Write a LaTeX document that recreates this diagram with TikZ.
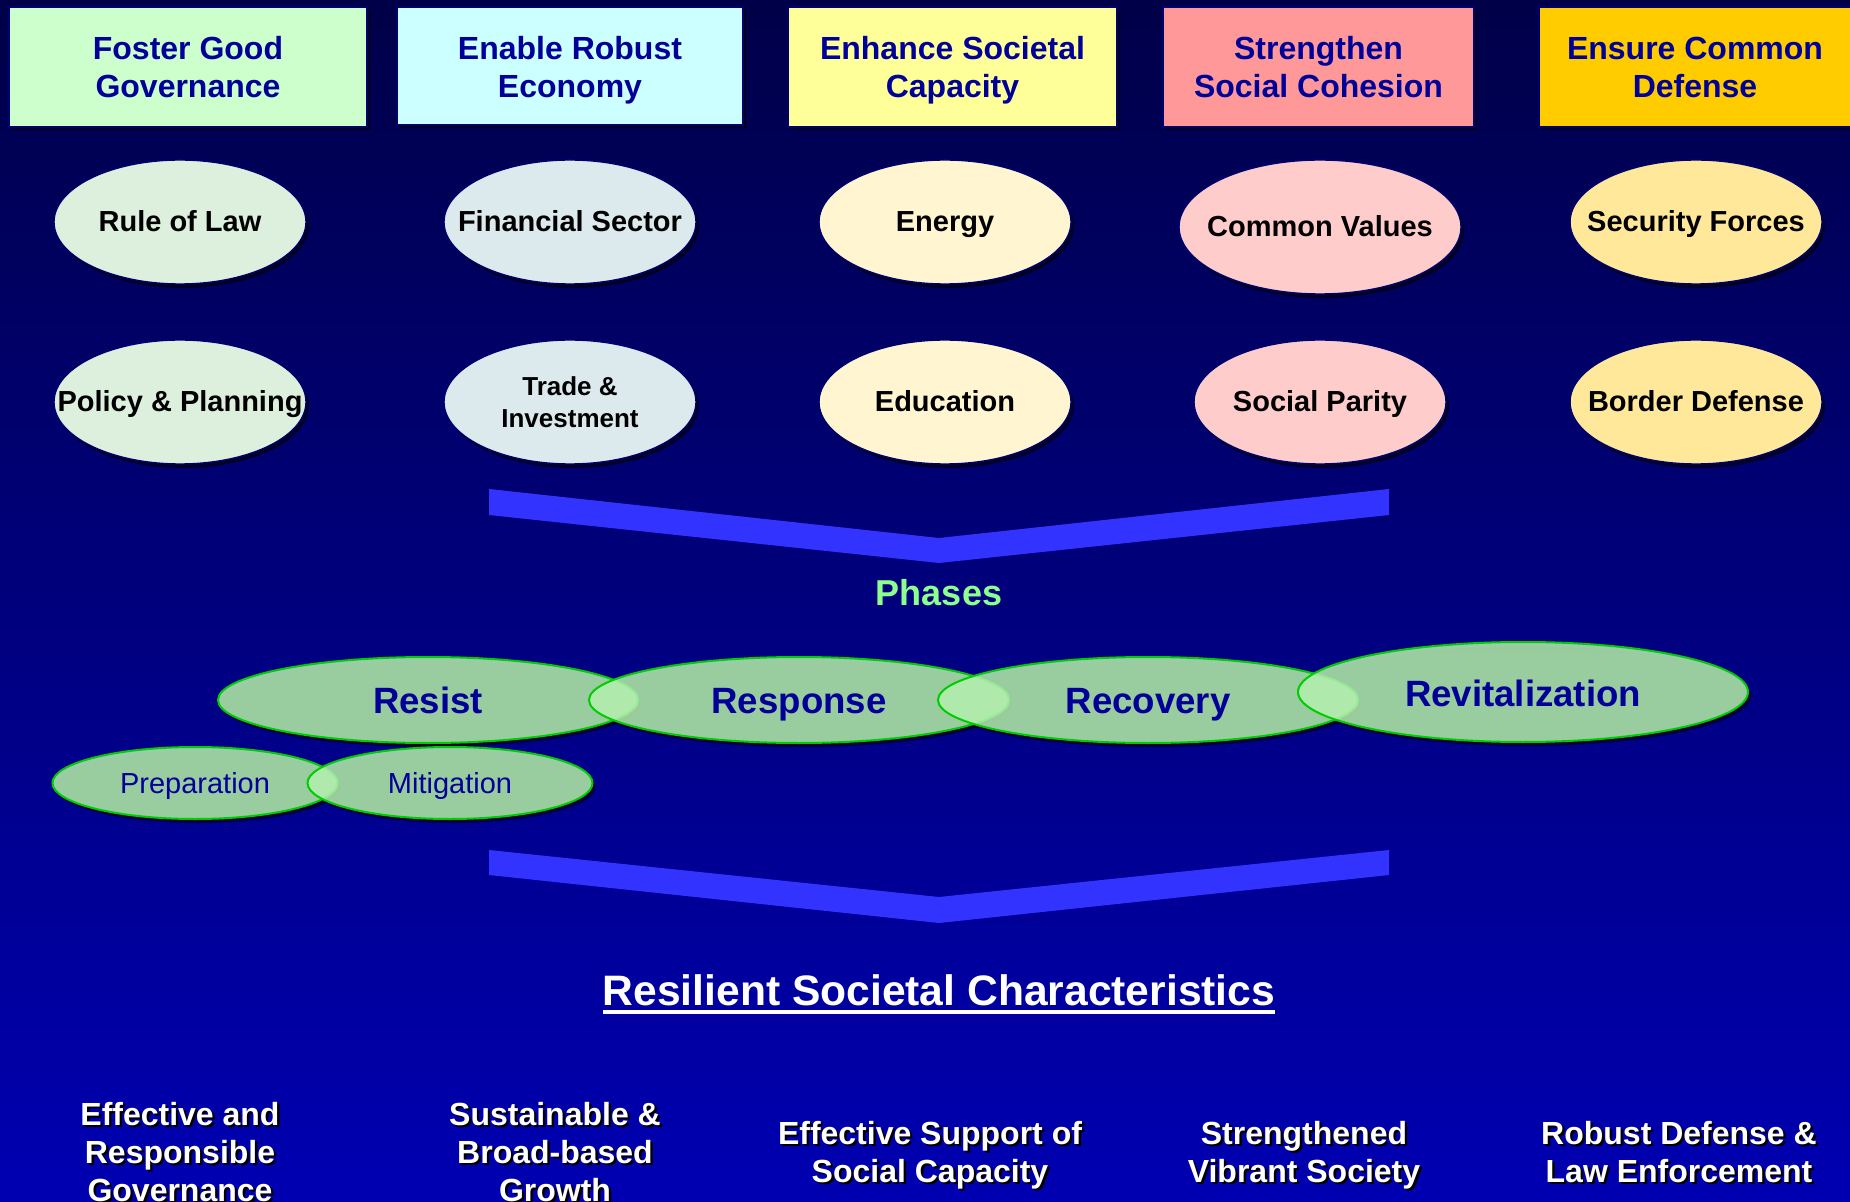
\documentclass[tikz,border=0pt]{standalone}
\usepackage{fontspec}
\setmainfont{Liberation Sans}
\usetikzlibrary{shapes.geometric,shadows}

\definecolor{bgtop}{RGB}{0,0,72}
\definecolor{bgbot}{RGB}{0,0,178}
\definecolor{ttlblue}{RGB}{0,0,153}
\definecolor{boxA}{RGB}{204,255,204}
\definecolor{boxB}{RGB}{204,255,255}
\definecolor{boxC}{RGB}{255,255,153}
\definecolor{boxD}{RGB}{255,153,153}
\definecolor{boxE}{RGB}{255,204,0}
\definecolor{ellA}{RGB}{221,240,221}
\definecolor{ellB}{RGB}{220,234,238}
\definecolor{ellC}{RGB}{255,245,208}
\definecolor{ellD}{RGB}{255,204,204}
\definecolor{ellE}{RGB}{255,232,153}
\definecolor{chev}{RGB}{51,51,255}
\definecolor{phasegreen}{RGB}{140,255,140}
\definecolor{phfill}{RGB}{180,240,176}
\definecolor{phedge}{RGB}{0,204,0}
\definecolor{navyedge}{RGB}{0,0,110}
\definecolor{shadowblue}{RGB}{0,0,25}

\tikzset{
  every node/.style={inner sep=0pt, outer sep=0pt},
  topbox/.style={draw=navyedge, line width=0.6pt,
    drop shadow={shadow xshift=1.5pt, shadow yshift=-1.5pt, fill=shadowblue, opacity=0.8}},
  ttltext/.style={anchor=base, align=center, text=ttlblue,
    font=\fontsize{16}{19}\selectfont\bfseries},
  ell/.style={ellipse, draw=navyedge, line width=0.7pt,
    drop shadow={shadow xshift=1.5pt, shadow yshift=-2pt, fill=shadowblue, opacity=0.8}},
  elltext/.style={anchor=base, align=center, text=black,
    font=\fontsize{14.5}{16}\selectfont\bfseries},
  phshadow/.style={ellipse, fill=shadowblue, opacity=0.7},
  phase/.style={ellipse, draw=phedge, line width=1pt, fill=phfill, fill opacity=0.85},
  bigphase/.style={minimum width=210pt, minimum height=43pt},
  smallphase/.style={minimum width=142.5pt, minimum height=36pt},
  phtext/.style={anchor=base, text=ttlblue, font=\fontsize{18.3}{20}\selectfont\bfseries},
  smphtext/.style={anchor=base, text=ttlblue, font=\fontsize{14.5}{16}\selectfont},
  restext/.style={anchor=base, align=center, text=white,
    font=\fontsize{16}{19}\selectfont\bfseries},
  resshadow/.style={anchor=base, align=center, text=black,
    font=\fontsize{16}{19}\selectfont\bfseries},
}

\begin{document}
\begin{tikzpicture}[x=0.5pt,y=-0.5pt]
\useasboundingbox (0,0) rectangle (1850,1202);
\clip (0,0) rectangle (1850,1202);
\shade[top color=bgtop, bottom color=bgbot] (0,0) rectangle (1850,1202);

% ---- top boxes ----
\node[topbox, fill=boxA, minimum width=179pt,   minimum height=60pt] (b1) at (188,67) {};
\node[topbox, fill=boxB, minimum width=173pt,   minimum height=59pt] (b2) at (570,66) {};
\node[topbox, fill=boxC, minimum width=164.5pt, minimum height=60pt] (b3) at (952.5,67) {};
\node[topbox, fill=boxD, minimum width=155.5pt, minimum height=60pt] (b4) at (1318.5,67) {};
\node[topbox, fill=boxE, minimum width=165.5pt, minimum height=60pt] (b5) at (1704.5,67) {};

% base anchor = baseline of the last line
\node[ttltext] (t1) at (188,98)    {Foster Good\\Governance};
\node[ttltext] (t2) at (570,98)    {Enable Robust\\Economy};
\node[ttltext] (t3) at (952.5,98)  {Enhance Societal\\Capacity};
\node[ttltext] (t4) at (1318.5,98) {Strengthen\\Social Cohesion};
\node[ttltext] (t5) at (1695,98)   {Ensure Common\\Defense};

% ---- sector ellipses ----
\node[ell, fill=ellA, minimum width=126pt, minimum height=62pt] (e1a) at (180,222) {};
\node[ell, fill=ellB, minimum width=126pt, minimum height=62pt] (e2a) at (570,222) {};
\node[ell, fill=ellC, minimum width=126pt, minimum height=62pt] (e3a) at (945,222) {};
\node[ell, fill=ellD, minimum width=141pt, minimum height=67pt] (e4a) at (1320,227) {};
\node[ell, fill=ellE, minimum width=126pt, minimum height=62pt] (e5a) at (1696,222) {};

\node[ell, fill=ellA, minimum width=126pt, minimum height=62pt] (e1b) at (180,402) {};
\node[ell, fill=ellB, minimum width=126pt, minimum height=62pt] (e2b) at (570,402) {};
\node[ell, fill=ellC, minimum width=126pt, minimum height=62pt] (e3b) at (945,402) {};
\node[ell, fill=ellD, minimum width=126pt, minimum height=62pt] (e4b) at (1320,402) {};
\node[ell, fill=ellE, minimum width=126pt, minimum height=62pt] (e5b) at (1696,402) {};

\node[elltext] (e1at) at (180,232)  {Rule of Law};
\node[elltext] (e2at) at (570,232)  {Financial Sector};
\node[elltext] (e3at) at (945,232)  {Energy};
\node[elltext] (e4at) at (1320,237) {Common Values};
\node[elltext] (e5at) at (1696,232) {Security Forces};

\node[elltext] (e1bt) at (180,412)  {Policy \& Planning};
\node[elltext, font=\fontsize{13}{16}\selectfont\bfseries] (e2bt) at (570,428) {Trade \&\\Investment};
\node[elltext] (e3bt) at (945,412)  {Education};
\node[elltext] (e4bt) at (1320,412) {Social Parity};
\node[elltext] (e5bt) at (1696,412) {Border Defense};

% ---- chevrons ----
\fill[chev] (489,489) -- (939,538) -- (1389,489) -- (1389,515) -- (939,563) -- (489,515) -- cycle;
\fill[chev] (489,850) -- (939,897) -- (1389,850) -- (1389,875) -- (939,923) -- (489,875) -- cycle;

\node[anchor=base, text=phasegreen, font=\fontsize{18}{20}\selectfont\bfseries] (phases) at (939,605) {Phases};

% ---- phase shadows ----
\node[phshadow, bigphase] (rs-sh) at ([xshift=1.5pt,yshift=-2pt]428,700) {};
\node[phshadow, bigphase] (rp-sh) at ([xshift=1.5pt,yshift=-2pt]799,700) {};
\node[phshadow, bigphase] (rc-sh) at ([xshift=1.5pt,yshift=-2pt]1148,700) {};
\node[phshadow, minimum width=225pt, minimum height=50pt] (rv-sh) at ([xshift=1.5pt,yshift=-2pt]1523,692) {};
\node[phshadow, smallphase] (pr-sh) at ([xshift=1.5pt,yshift=-2pt]195,783) {};
\node[phshadow, smallphase] (mi-sh) at ([xshift=1.5pt,yshift=-2pt]450,783) {};

% ---- phases ----
\node[phase, bigphase] (resist) at (428,700) {};
\node[phase, bigphase] (response) at (799,700) {};
\node[phase, bigphase] (recovery) at (1148,700) {};
\node[phase, minimum width=225pt, minimum height=50pt] (revital) at (1523,692) {};
\node[phase, smallphase] (prep) at (195,783) {};
\node[phase, smallphase] (mitig) at (450,783) {};

\node[phtext] (resist-t) at (428,713) {Resist};
\node[phtext] (response-t) at (799,713) {Response};
\node[phtext] (recovery-t) at (1148,713) {Recovery};
\node[phtext] (revital-t) at (1523,706) {Revitalization};
\node[smphtext] (prep-t) at (195,793) {Preparation};
\node[smphtext] (mitig-t) at (450,793) {Mitigation};

% ---- resilient characteristics ----
\node[anchor=base, text=white, font=\fontsize{21.3}{24}\selectfont\bfseries] (rsc) at (939,1005) {Resilient Societal Characteristics};
\fill[white] ([yshift=-2.5pt]rsc.base west) rectangle ([yshift=-4.5pt]rsc.base east);

\node[resshadow] (c1s) at ([xshift=1.2pt,yshift=-1.2pt]180,1201) {Effective and\\Responsible\\Governance};
\node[resshadow] (c2s) at ([xshift=1.2pt,yshift=-1.2pt]555,1201) {Sustainable \&\\Broad-based\\Growth};
\node[resshadow] (c3s) at ([xshift=1.2pt,yshift=-1.2pt]930,1182) {Effective Support of\\Social Capacity};
\node[resshadow] (c4s) at ([xshift=1.2pt,yshift=-1.2pt]1304,1182) {Strengthened\\Vibrant Society};
\node[resshadow] (c5s) at ([xshift=1.2pt,yshift=-1.2pt]1679,1182) {Robust Defense \&\\Law Enforcement};

\node[restext] (c1) at (180,1201) {Effective and\\Responsible\\Governance};
\node[restext] (c2) at (555,1201) {Sustainable \&\\Broad-based\\Growth};
\node[restext] (c3) at (930,1182) {Effective Support of\\Social Capacity};
\node[restext] (c4) at (1304,1182) {Strengthened\\Vibrant Society};
\node[restext] (c5) at (1679,1182) {Robust Defense \&\\Law Enforcement};
\end{tikzpicture}
\end{document}
